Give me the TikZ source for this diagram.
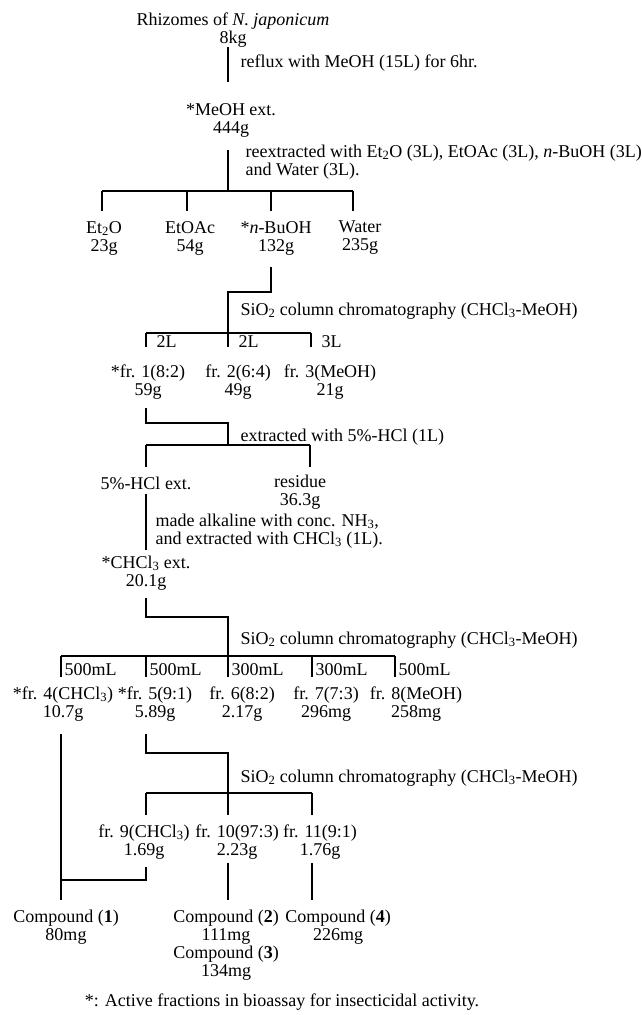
\documentclass[tikz,border=0pt]{standalone}
\usepackage{fontspec}
\setmainfont{Liberation Serif}
\usetikzlibrary{positioning}

\begin{document}
\begin{tikzpicture}[x=1pt, y=-1pt, line width=1.2pt,
  lbl/.style={inner sep=0pt, align=center, font=\fontsize{18}{18}\selectfont},
  note/.style={lbl, anchor=west, align=left},
  vol/.style={lbl, anchor=west}]
\useasboundingbox (0,0) rectangle (642,1015);

% extraction of the rhizomes
\coordinate (A0) at (228,47);
\coordinate (A1) at (228,82);
\node[lbl] (rhiz) at (233,30) {Rhizomes of \textit{N. japonicum}\\8kg};
\node[note] (reflux) at (240,63) {reflux with MeOH (15L) for 6hr.};
\draw (A0)--(A1);

\node[lbl] (meoh) at (231,120) {*MeOH ext.\\444g};

% partition into four solvents
\coordinate (B0) at (228,150);
\coordinate (B1) at (228,191);
\coordinate (Bl) at (102,191);
\coordinate (Br) at (353,191);
\node[note] (reext) at (245,162) {reextracted with Et\textsubscript{2}O (3L), EtOAc (3L), \textit{n}-BuOH (3L)\\and Water (3L).};
\draw (B0)--(B1);
\draw (Bl)--(Br);
\foreach \x/\n in {102/et, 187/ac, 271/bu, 353/wa}
  \draw (\x,191)--(\x,211) coordinate (\n);

\node[lbl] (etto) at (104,238) {Et\textsubscript{2}O\\23g};
\node[lbl] (etac) at (190,238) {EtOAc\\54g};
\node[lbl] (buoh) at (276,238) {*\textit{n}-BuOH\\132g};
\node[lbl] (water) at (360,238) {Water\\235g};

% first silica column
\coordinate (C0) at (271,267);
\coordinate (C1) at (271,292);
\coordinate (C2) at (228,292);
\coordinate (C3) at (228,333);
\draw (C0)--(C1)--(C2)--(C3);
\node[note] (sio1) at (240,311) {SiO\textsubscript{2} column chromatography (CHCl\textsubscript{3}-MeOH)};
\draw (146,333)--(311,333);
\foreach \x in {146, 228, 311}
  \draw (\x,333)--(\x,347);
\node[vol] (v1) at (156,342) {2L};
\node[vol] (v2) at (238,342) {2L};
\node[vol] (v3) at (321,342) {3L};

\node[lbl] (fr1) at (148,382) {*fr. 1(8:2)\\59g};
\node[lbl] (fr2) at (238,382) {fr. 2(6:4)\\49g};
\node[lbl] (fr3) at (330,382) {fr. 3(MeOH)\\21g};

% acid extraction
\coordinate (D0) at (146,408);
\coordinate (D1) at (146,423);
\coordinate (D2) at (228,423);
\coordinate (D3) at (228,445);
\draw (D0)--(D1)--(D2)--(D3);
\node[note] (hcl) at (240,437) {extracted with 5\%-HCl (1L)};
\draw (146,445)--(310,445);
\draw (146,445)--(146,467);
\draw (310,445)--(310,467);

\node[lbl] (hclext) at (146,483) {5\%-HCl ext.};
\node[lbl] (resid) at (300,492) {residue\\36.3g};

\coordinate (E0) at (146,494);
\coordinate (E1) at (146,550);
\draw (E0)--(E1);
\node[note] (alk) at (155,531) {made alkaline with conc. NH\textsubscript{3},\\and extracted with CHCl\textsubscript{3} (1L).};

\node[lbl] (chcl) at (146,573) {*CHCl\textsubscript{3} ext.\\20.1g};

% second silica column
\coordinate (F0) at (146,598);
\coordinate (F1) at (146,617);
\coordinate (F2) at (228,617);
\coordinate (F3) at (228,656);
\draw (F0)--(F1)--(F2)--(F3);
\node[note] (sio2) at (240,640) {SiO\textsubscript{2} column chromatography (CHCl\textsubscript{3}-MeOH)};
\draw (61,656)--(395,656);
\foreach \x/\v in {61/500mL, 146/500mL, 228/300mL, 312/300mL, 395/500mL} {
  \draw (\x,656)--(\x,677);
  \node[vol] at (\x+3,670) {\v};
}

\node[lbl] (fr4) at (63,704) {*fr. 4(CHCl\textsubscript{3})\\10.7g};
\node[lbl] (fr5) at (155,704) {*fr. 5(9:1)\\5.89g};
\node[lbl] (fr6) at (242,704) {fr. 6(8:2)\\2.17g};
\node[lbl] (fr7) at (326,704) {fr. 7(7:3)\\296mg};
\node[lbl] (fr8) at (416,704) {fr. 8(MeOH)\\258mg};

% third silica column
\coordinate (G0) at (146,734);
\coordinate (G1) at (146,753);
\coordinate (G2) at (228,753);
\coordinate (G3) at (228,793);
\draw (G0)--(G1)--(G2)--(G3);
\node[note] (sio3) at (240,778) {SiO\textsubscript{2} column chromatography (CHCl\textsubscript{3}-MeOH)};
\draw (146,793)--(312,793);
\foreach \x in {146, 228, 312}
  \draw (\x,793)--(\x,815);

\node[lbl] (fr9) at (144,842) {fr. 9(CHCl\textsubscript{3})\\1.69g};
\node[lbl] (fr10) at (237,842) {fr. 10(97:3)\\2.23g};
\node[lbl] (fr11) at (320,842) {fr. 11(9:1)\\1.76g};

% pure compounds
\coordinate (H0) at (61,734);
\coordinate (H1) at (61,900);
\coordinate (H2) at (146,867);
\coordinate (H3) at (146,880);
\coordinate (H4) at (61,880);
\draw (H0)--(H1);
\draw (H2)--(H3)--(H4);
\draw (228,863)--(228,900);
\draw (312,863)--(312,900);

\node[lbl] (cp1) at (66,927) {Compound (\textbf{1})\\80mg};
\node[lbl] (cp23) at (226,945) {Compound (\textbf{2})\\111mg\\Compound (\textbf{3})\\134mg};
\node[lbl] (cp4) at (338,927) {Compound (\textbf{4})\\226mg};

\node[lbl] (foot) at (282,1002) {*: Active fractions in bioassay for insecticidal activity.};
\end{tikzpicture}
\end{document}
